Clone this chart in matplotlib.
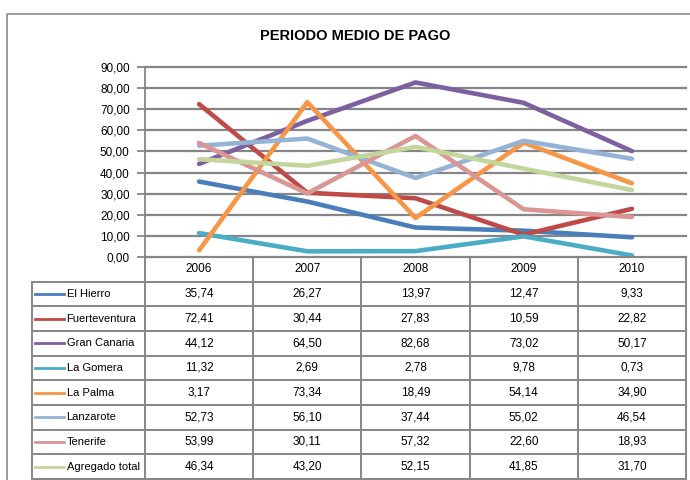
import matplotlib
matplotlib.use("Agg")
import matplotlib.pyplot as plt
from matplotlib.lines import Line2D

plt.rcParams['font.family'] = ['Liberation Sans', 'DejaVu Sans']

years = ['2006', '2007', '2008', '2009', '2010']
series_names = ['El Hierro', 'Fuerteventura', 'Gran Canaria', 'La Gomera',
                'La Palma', 'Lanzarote', 'Tenerife', 'Agregado total']
el_hierro = [35.74, 26.27, 13.97, 12.47, 9.33]
fuerteventura = [72.41, 30.44, 27.83, 10.59, 22.82]
gran_canaria = [44.12, 64.50, 82.68, 73.02, 50.17]
la_gomera = [11.32, 2.69, 2.78, 9.78, 0.73]
la_palma = [3.17, 73.34, 18.49, 54.14, 34.90]
lanzarote = [52.73, 56.10, 37.44, 55.02, 46.54]
tenerife = [53.99, 30.11, 57.32, 22.60, 18.93]
agregado_total = [46.34, 43.20, 52.15, 41.85, 31.70]
series_values = [el_hierro, fuerteventura, gran_canaria, la_gomera,
                 la_palma, lanzarote, tenerife, agregado_total]
colors = ['#4A7EBB', '#BE4B48', '#7D60A0', '#4BACC6',
          '#F79646', '#95B3D7', '#D99694', '#C3D69B']
y_ticks = list(range(0, 91, 10))
title = 'PERIODO MEDIO DE PAGO'

GRID = '#868686'
W, H = 690, 480
fig = plt.figure(figsize=(6.9, 4.8), dpi=100)

def fx(px):
    return px / W

def fy(py):
    return 1 - py / H

# outer chart border
fig.add_artist(Line2D([fx(7), fx(7), fx(700)], [fy(490), fy(14), fy(14)],
                      color='#8C8C8C', lw=1.2))

fig.text(fx(355), fy(36), title, ha='center', va='center',
         fontsize=10.5, fontweight='bold')

# main plot
ax = fig.add_axes([fx(145), fy(257), fx(686) - fx(145), fy(67) - fy(257)])
ax.set_xlim(-0.5, len(years) - 0.5)
ax.set_ylim(0, 90)
ax.set_yticks(y_ticks)
ax.set_yticklabels([f"{v:.2f}".replace('.', ',') for v in y_ticks], fontsize=8.5)
ax.set_xticks([])
for s in ['top', 'right', 'bottom']:
    ax.spines[s].set_visible(False)
ax.spines['left'].set_color(GRID)
ax.spines['left'].set_linewidth(1.3)
ax.tick_params(axis='y', length=6, width=1.3, color=GRID, pad=5)
for v in y_ticks:
    ax.axhline(v, color=GRID, lw=1.6, zorder=1, clip_on=False)

xs = list(range(len(years)))
for vals, c in zip(series_values, colors):
    ax.plot(xs, vals, color=c, lw=3.3, solid_joinstyle='round',
            solid_capstyle='round', zorder=3)

# data table
col_w_px = (686 - 145) / len(years)
x0 = -0.5 - (145 - 32) / col_w_px
nrows = len(series_names) + 1
tax = fig.add_axes([fx(32), fy(479), fx(686) - fx(32), fy(257) - fy(479)])
tax.set_xlim(x0, len(years) - 0.5)
tax.set_ylim(nrows, 0)
tax.axis('off')

lk = dict(color=GRID, lw=1.4, clip_on=False)
tax.plot([-0.5, len(years) - 0.5], [0, 0], **lk)
for r in range(1, nrows + 1):
    tax.plot([x0, len(years) - 0.5], [r, r], **lk)
for k in range(len(years) + 1):
    tax.plot([-0.5 + k, -0.5 + k], [0, nrows], **lk)
tax.plot([x0, x0], [1, nrows], **lk)

for i, y in enumerate(years):
    tax.text(i, 0.5, y, ha='center', va='center', fontsize=8.5)

for r, (name, vals, c) in enumerate(zip(series_names, series_values, colors)):
    yc = r + 1.5
    tax.plot([x0 + 0.03, x0 + 0.3], [yc, yc], color=c, lw=2.0)
    tax.text(x0 + 0.32, yc, name, ha='left', va='center', fontsize=8)
    for i, v in enumerate(vals):
        tax.text(i, yc, f"{v:.2f}".replace('.', ','), ha='center',
                 va='center', fontsize=8.5)

fig.savefig('out.png', dpi=100)
